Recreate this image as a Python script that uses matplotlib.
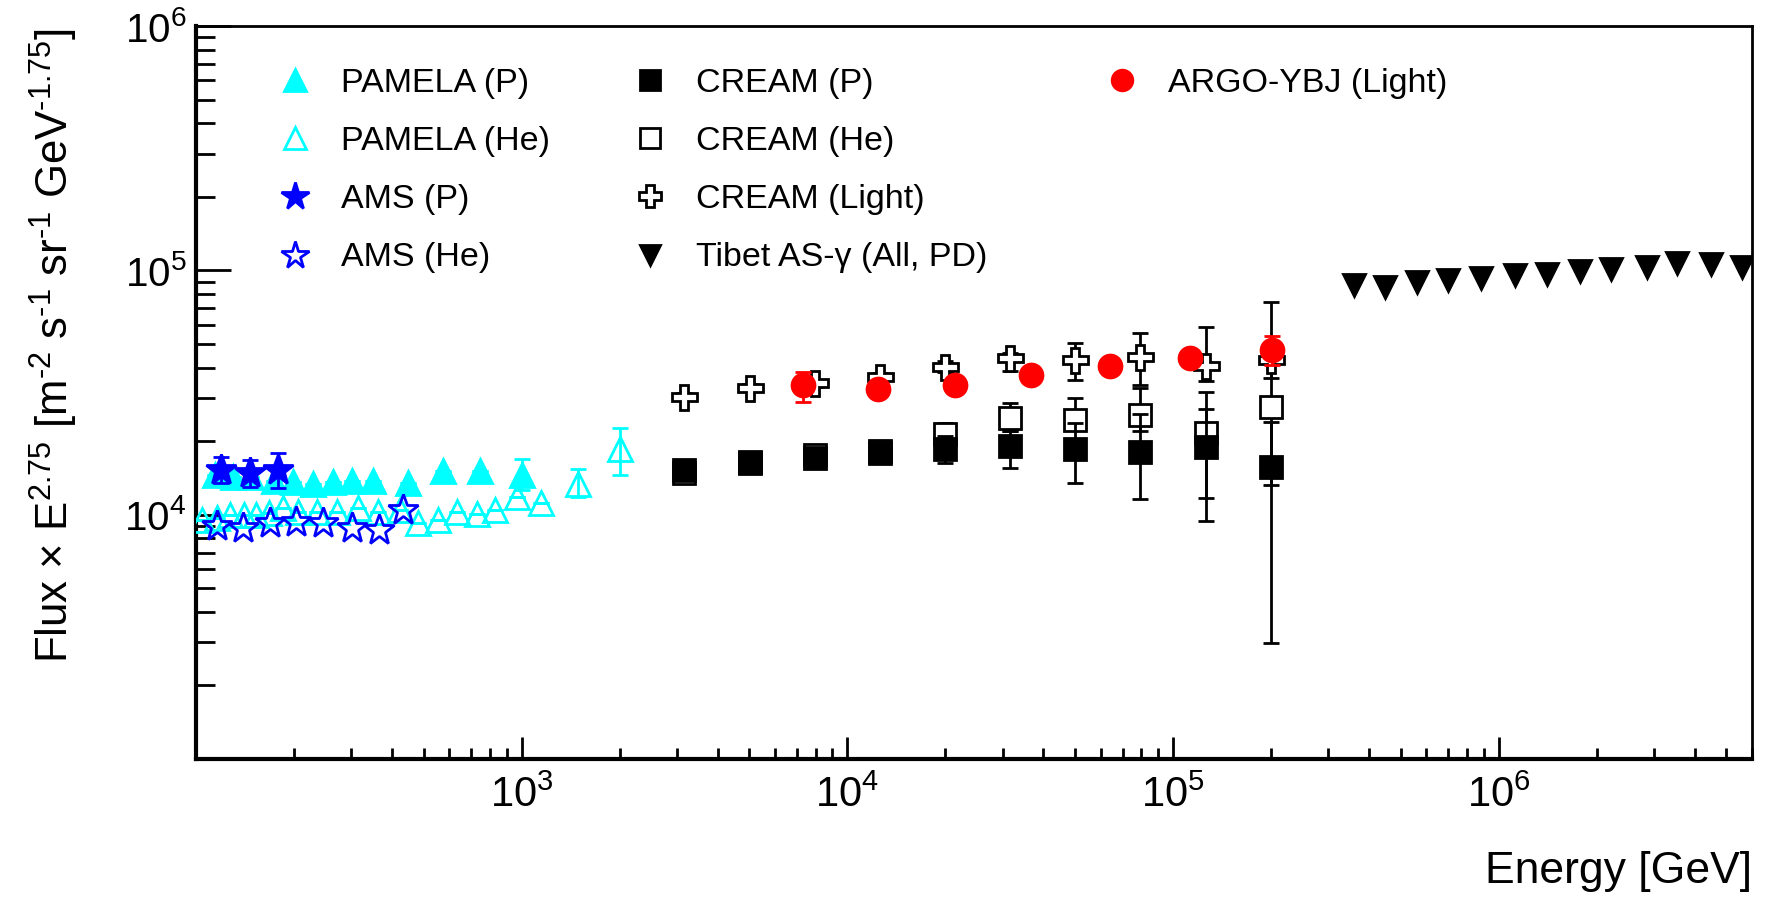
"""
Cosmic-ray light component: flux x E^2.75 from several experiments
"""
import numpy as np
import matplotlib.pyplot as plt
from matplotlib.ticker import FixedLocator, FixedFormatter, NullFormatter

plt.rcParams['font.family'] = ['Liberation Sans', 'DejaVu Sans']
plt.rcParams['mathtext.fontset'] = 'custom'
plt.rcParams['mathtext.rm'] = 'Liberation Sans'
plt.rcParams['mathtext.it'] = 'Liberation Sans:italic'
plt.rcParams['mathtext.bf'] = 'Liberation Sans:bold'

# PAMELA
pam_p_e = [114, 130, 148, 173, 199, 229, 264, 302, 350, 449, 575, 745, 1000]
pam_p_f = [14550, 14300, 14230, 13770, 13640, 13310, 13640, 13740, 13770, 13430, 15140, 15140, 14550]
pam_p_lo = [14550, 14300, 14230, 13770, 13640, 13310, 13640, 13740, 13770, 13430, 15140, 15140, 12620]
pam_p_hi = [14550, 14300, 14230, 13770, 13640, 13310, 13640, 13740, 13770, 13430, 15140, 15140, 16870]

pam_he_e = [104, 116, 127, 140, 153, 168, 185, 206, 235, 271, 315, 363, 423, 482, 555, 632,
            728, 828, 965, 1150, 1490, 2000]
pam_he_f = [9510, 9660, 9970, 9970, 9970, 10140, 10630, 10290, 10290, 10290, 10630, 10290, 10460,
            9230, 9510, 10290, 10040, 10460, 11800, 11200, 13350, 18500]
pam_he_lo = [9510, 9660, 9970, 9970, 9970, 10140, 10630, 10290, 10290, 10290, 10630, 10290, 10460,
             9230, 9510, 10290, 10040, 10460, 11800, 11200, 11830, 14550]
pam_he_hi = [9510, 9660, 9970, 9970, 9970, 10140, 10630, 10290, 10290, 10290, 10630, 10290, 10460,
             9230, 9510, 10290, 10040, 10460, 11800, 11200, 15450, 22600]

# AMS
ams_p_e = [119, 147, 179]
ams_p_f = [15240, 14860, 15240]
ams_p_lo = [13430, 13030, 12820]
ams_p_hi = [17270, 16760, 17810]

ams_he_e = [116, 139, 169, 203, 246, 301, 365, 431]
ams_he_f = [8990, 8800, 9230, 9360, 9230, 8800, 8650, 10460]

# CREAM
cream_e = [3160, 5010, 7940, 12600, 20000, 31600, 50100, 79400, 126000, 200000]
cream_p = [15200, 16400, 17100, 17900, 18600, 19060, 18500, 18070, 18980, 15700]
cream_p_lo = [14700, 15900, 16600, 17300, 16300, 15500, 13430, 11560, 11650, 13250]
cream_p_hi = [15700, 16900, 17600, 18500, 21000, 21900, 23700, 25800, 27000, 24000]
cream_he = [14800, 16200, 17600, 18200, 21400, 24900, 24400, 25600, 21500, 27500]
cream_he_lo = [14300, 15600, 16900, 17400, 20000, 22000, 22500, 22000, 9460, 2990]
cream_he_hi = [15300, 16800, 18300, 19000, 23800, 28700, 29900, 33000, 31900, 74500]
cream_li = [30400, 33100, 34500, 36700, 40400, 43600, 42900, 44000, 40600, 43000]
cream_li_lo = [29400, 32000, 33400, 35500, 38500, 38800, 35500, 33900, 35100, 36100]
cream_li_hi = [31400, 34200, 35600, 37900, 42500, 46000, 50200, 55200, 58700, 50000]

# ARGO-YBJ
argo_e = [7330, 12400, 21400, 36700, 64100, 112500, 202000]
argo_f = [34000, 32700, 34000, 37300, 40600, 43700, 47200]
argo_lo = [29000, 31000, 32300, 35500, 38600, 41600, 41000]
argo_hi = [38400, 34400, 35700, 39200, 42600, 45900, 53800]

# Tibet AS-gamma
tibet_e = [3.6e5, 4.48e5, 5.61e5, 6.98e5, 8.85e5, 1.125e6, 1.41e6, 1.78e6, 2.22e6, 2.85e6,
           3.53e6, 4.49e6, 5.59e6]
tibet_f = [87100, 85700, 89300, 91300, 92800, 95700, 96400, 99500, 101400, 103600, 107600,
           105900, 103600]

xticks = [1e3, 1e4, 1e5, 1e6]
xticklabels = ['10$^{3}$', '10$^{4}$', '10$^{5}$', '10$^{6}$']
yticks = [1e4, 1e5, 1e6]
yticklabels = ['10$^{4}$', '10$^{5}$', '10$^{6}$']

CYAN = '#00ffff'
BLUE = '#0000ff'
RED = '#ff0000'


def draw(ax, e, f, marker, color, face, ms, z, lo=None, hi=None):
    e = np.asarray(e, float)
    f = np.asarray(f, float)
    yerr = None
    if lo is not None:
        yerr = [f - np.asarray(lo, float), np.asarray(hi, float) - f]
    cont = ax.errorbar(e, f, yerr=yerr, fmt=marker, color=color, mfc=face, mec=color,
                       ms=ms, mew=2, elinewidth=2, capsize=6, capthick=2, zorder=z)
    return cont[0]


fig = plt.figure(figsize=(17.66, 8.97), dpi=100)
ax = fig.add_axes([196 / 1766, 1 - 759 / 897, 1556 / 1766, 733 / 897])
ax.set_xscale('log')
ax.set_yscale('log')
ax.set_xlim(100, 6e6)
ax.set_ylim(1e3, 1e6)

h_pp = draw(ax, pam_p_e, pam_p_f, '^', CYAN, CYAN, 17, 3, pam_p_lo, pam_p_hi)
h_phe = draw(ax, pam_he_e, pam_he_f, '^', CYAN, 'none', 17, 3, pam_he_lo, pam_he_hi)
h_ap = draw(ax, ams_p_e, ams_p_f, '*', BLUE, BLUE, 23, 4, ams_p_lo, ams_p_hi)
h_ahe = draw(ax, ams_he_e, ams_he_f, '*', BLUE, 'none', 23, 4)
h_che = draw(ax, cream_e, cream_he, 's', 'black', 'white', 16, 3, cream_he_lo, cream_he_hi)
h_cp = draw(ax, cream_e, cream_p, 's', 'black', 'black', 16, 3.2, cream_p_lo, cream_p_hi)
h_cli = draw(ax, cream_e, cream_li, 'P', 'black', 'white', 18, 3.4, cream_li_lo, cream_li_hi)
h_tib = draw(ax, tibet_e, tibet_f, 'v', 'black', 'black', 16, 3)
h_argo = draw(ax, argo_e, argo_f, 'o', RED, RED, 16.5, 5, argo_lo, argo_hi)

# axes frame and ticks
for side in ['left', 'bottom']:
    ax.spines[side].set_linewidth(3)
for side in ['top', 'right']:
    ax.spines[side].set_linewidth(2)

ax.xaxis.set_major_locator(FixedLocator(xticks))
ax.xaxis.set_major_formatter(FixedFormatter(xticklabels))
ax.xaxis.set_minor_formatter(NullFormatter())
ax.yaxis.set_major_locator(FixedLocator(yticks))
ax.yaxis.set_major_formatter(FixedFormatter(yticklabels))
ax.yaxis.set_minor_formatter(NullFormatter())

ax.tick_params(which='both', direction='in', top=False, right=False, width=2)
ax.tick_params(axis='y', which='major', length=25, pad=7, labelsize=29)
ax.tick_params(axis='y', which='minor', length=14)
ax.tick_params(axis='x', which='major', length=16, pad=12, labelsize=30)
ax.tick_params(axis='x', which='minor', length=8)

fig.text(1752 / 1766, 1 - 871 / 897, 'Energy [GeV]', ha='right', va='center', fontsize=32)
fig.text(54 / 1766, 1 - 28 / 897,
         r'Flux $\times$ E$^{2.75}$ [m$^{\text{-}2}$ s$^{\text{-}1}$ sr$^{\text{-}1}$ GeV$^{\text{-}1.75}$]',
         rotation=90, ha='center', va='top', fontsize=31.5)

# legends, three columns
leg_kw = dict(frameon=False, fontsize=24.5, handlelength=1.0, handletextpad=0.85,
              labelspacing=0.8, borderpad=0, borderaxespad=0, numpoints=1,
              loc='upper left', markerscale=0.9)
l1 = ax.legend([h_pp, h_phe, h_ap, h_ahe],
               ['PAMELA (P)', 'PAMELA (He)', 'AMS (P)', 'AMS (He)'],
               bbox_to_anchor=(0.053, 0.943), **leg_kw)
ax.add_artist(l1)
l2 = ax.legend([h_cp, h_che, h_cli, h_tib],
               ['CREAM (P)', 'CREAM (He)', 'CREAM (Light)', 'Tibet AS-γ (All, PD)'],
               bbox_to_anchor=(0.281, 0.943), **leg_kw)
ax.add_artist(l2)
ax.legend([h_argo], ['ARGO-YBJ (Light)'], bbox_to_anchor=(0.584, 0.943), **leg_kw)

fig.savefig('out.png', dpi=100)
